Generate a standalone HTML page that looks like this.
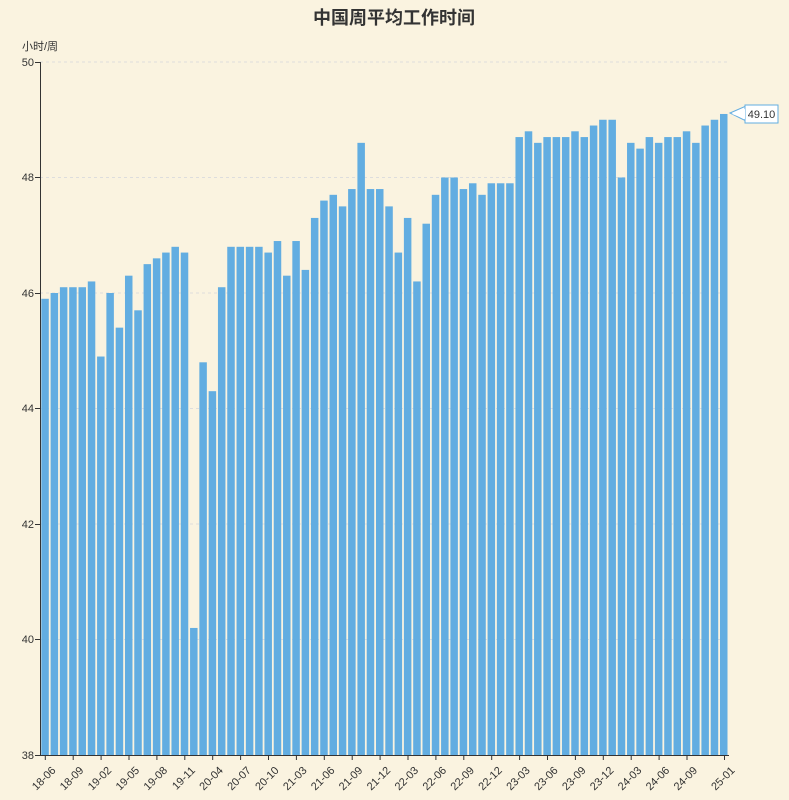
<!DOCTYPE html>
<html><head><meta charset="utf-8"><style>
html,body{margin:0;padding:0;background:#faf3e0;}
svg{display:block;font-family:"Liberation Sans","Noto Sans CJK SC",sans-serif;}
</style></head><body>
<svg id="s" width="789" height="800" xmlns="http://www.w3.org/2000/svg">
<rect width="789" height="800" fill="#faf3e0"/>
<text x="394" y="24" text-anchor="middle" font-size="18" font-weight="bold" fill="#333">中国周平均工作时间</text>
<text x="22" y="50" font-size="11" fill="#333">小时/周</text>
<g stroke="#ddd" stroke-dasharray="3,3" stroke-width="1">
<line x1="40" x2="730" y1="62" y2="62"/><line x1="40" x2="730" y1="177.5" y2="177.5"/>
<line x1="40" x2="730" y1="293" y2="293"/><line x1="40" x2="730" y1="408.5" y2="408.5"/>
<line x1="40" x2="730" y1="524" y2="524"/><line x1="40" x2="730" y1="639.5" y2="639.5"/>
</g>
<g id="bars" fill="#62ade1"></g>
<g stroke="#333" stroke-width="1">
<line x1="40.5" y1="62" x2="40.5" y2="755"/><line x1="40" y1="755.5" x2="729" y2="755.5"/>
<line x1="35" x2="40" y1="62.5" y2="62.5"/><line x1="35" x2="40" y1="177.5" y2="177.5"/>
<line x1="35" x2="40" y1="293.5" y2="293.5"/><line x1="35" x2="40" y1="408.5" y2="408.5"/>
<line x1="35" x2="40" y1="524.5" y2="524.5"/><line x1="35" x2="40" y1="639.5" y2="639.5"/>
<line x1="35" x2="40" y1="755.5" y2="755.5"/>
</g>
<g font-size="11" fill="#333" text-anchor="end">
<text x="34" y="66">50</text><text x="34" y="181">48</text><text x="34" y="297">46</text>
<text x="34" y="412">44</text><text x="34" y="528">42</text><text x="34" y="643">40</text><text x="34" y="759">38</text>
</g>
<g id="ticks" stroke="#333"></g>
<g font-size="11" fill="#333" text-anchor="end">
<text transform="translate(56.3,771) rotate(-45)">18-06</text>
<text transform="translate(84.2,771) rotate(-45)">18-09</text>
<text transform="translate(112.1,771) rotate(-45)">19-02</text>
<text transform="translate(140,771) rotate(-45)">19-05</text>
<text transform="translate(167.9,771) rotate(-45)">19-08</text>
<text transform="translate(195.8,771) rotate(-45)">19-11</text>
<text transform="translate(223.7,771) rotate(-45)">20-04</text>
<text transform="translate(251.6,771) rotate(-45)">20-07</text>
<text transform="translate(279.5,771) rotate(-45)">20-10</text>
<text transform="translate(307.4,771) rotate(-45)">21-03</text>
<text transform="translate(335.3,771) rotate(-45)">21-06</text>
<text transform="translate(363.2,771) rotate(-45)">21-09</text>
<text transform="translate(391.1,771) rotate(-45)">21-12</text>
<text transform="translate(419,771) rotate(-45)">22-03</text>
<text transform="translate(446.9,771) rotate(-45)">22-06</text>
<text transform="translate(474.8,771) rotate(-45)">22-09</text>
<text transform="translate(502.7,771) rotate(-45)">22-12</text>
<text transform="translate(530.6,771) rotate(-45)">23-03</text>
<text transform="translate(558.5,771) rotate(-45)">23-06</text>
<text transform="translate(586.4,771) rotate(-45)">23-09</text>
<text transform="translate(614.3,771) rotate(-45)">23-12</text>
<text transform="translate(642.2,771) rotate(-45)">24-03</text>
<text transform="translate(670.1,771) rotate(-45)">24-06</text>
<text transform="translate(698,771) rotate(-45)">24-09</text>
<text transform="translate(735.5,771) rotate(-45)">25-01</text>
</g>
<path d="M730,113 L746,106 L746,121 Z" fill="#fff" stroke="#62ade1"/>
<rect x="745" y="105" width="33" height="18" fill="#fff" stroke="#62ade1"/>
<path d="M745,109 L732,114 L745,119" fill="#fff" stroke="none"/>
<text x="761.5" y="118" font-size="11" fill="#333" text-anchor="middle">49.10</text>
</svg>
<script>
var v=[45.9,46.0,46.1,46.1,46.1,46.2,44.9,46.0,45.4,46.3,45.7,46.5,46.6,46.7,46.8,46.7,40.2,44.8,44.3,46.1,46.8,46.8,46.8,46.8,46.7,46.9,46.3,46.9,46.4,47.3,47.6,47.7,47.5,47.8,48.6,47.8,47.8,47.5,46.7,47.3,46.2,47.2,47.7,48.0,48.0,47.8,47.9,47.7,47.9,47.9,47.9,48.7,48.8,48.6,48.7,48.7,48.7,48.8,48.7,48.9,49.0,49.0,48.0,48.6,48.5,48.7,48.6,48.7,48.7,48.8,48.6,48.9,49.0,49.1];
var g=document.getElementById('bars'),h='',slot=688/74;
for(var i=0;i<v.length;i++){var x=41+i*slot,y=62+(50-v[i])*57.75;h+='<rect x="'+(x+0.3).toFixed(2)+'" y="'+y.toFixed(2)+'" width="'+(slot-1.8).toFixed(2)+'" height="'+(755-y).toFixed(2)+'"/>';}
g.innerHTML=h;
var t='';for(var k=0;k<25;k++){var tx=(k<24)?45.3+k*27.9:724.5;t+='<line x1="'+tx.toFixed(1)+'" x2="'+tx.toFixed(1)+'" y1="755" y2="760"/>';}
document.getElementById('ticks').innerHTML=t;
</script>
</body></html>
